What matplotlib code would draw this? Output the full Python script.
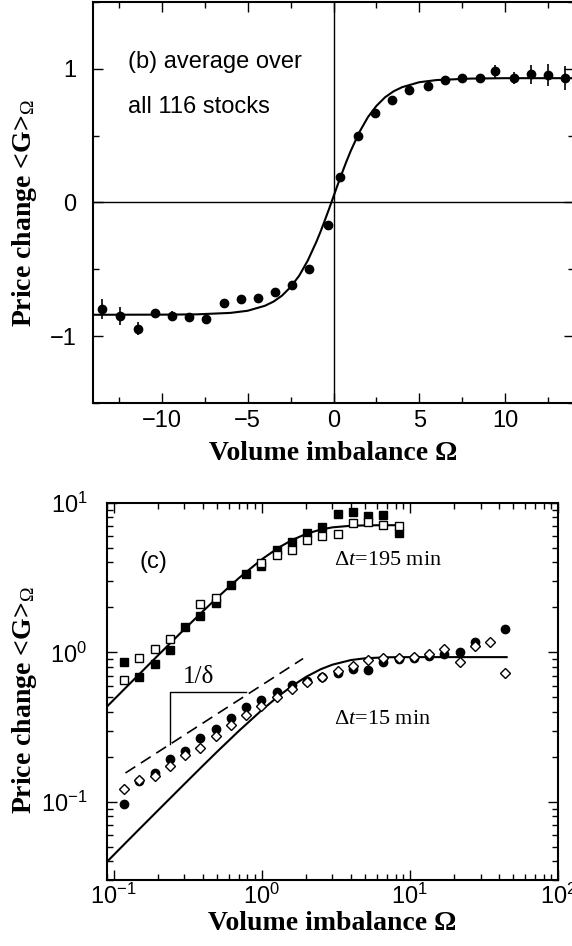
import matplotlib
matplotlib.use("Agg")
import matplotlib.pyplot as plt
import numpy as np
from matplotlib.ticker import MultipleLocator, LogLocator, NullFormatter

plt.rcParams['font.family'] = ['Liberation Sans', 'DejaVu Sans']
plt.rcParams['mathtext.fontset'] = 'custom'
plt.rcParams['mathtext.rm'] = 'Liberation Serif'
plt.rcParams['mathtext.it'] = 'Liberation Serif:italic'
plt.rcParams['mathtext.bf'] = 'Liberation Serif:bold'

# panel (b): average over all stocks
b_om = [-13.5, -12.4, -11.4, -10.4, -9.4, -8.4, -7.4, -6.4, -5.4, -4.4, -3.4, -2.4, -1.4,
        -0.3, 0.4, 1.4, 2.4, 3.4, 4.4, 5.5, 6.5, 7.5, 8.5, 9.4, 10.5, 11.5, 12.5, 13.5]
b_g = [-0.80, -0.85, -0.945, -0.83, -0.85, -0.855, -0.875, -0.75, -0.72, -0.715, -0.67, -0.615, -0.50,
       -0.165, 0.19, 0.50, 0.67, 0.77, 0.84, 0.875, 0.915, 0.935, 0.935, 0.98, 0.93, 0.96, 0.955, 0.93]
b_err = [0.075, 0.07, 0.05, 0.035, 0.035, 0.02, 0.02, 0.015, 0.015, 0.015, 0.015, 0.015, 0.01,
         0.01, 0.01, 0.01, 0.01, 0.01, 0.015, 0.015, 0.015, 0.015, 0.02, 0.045, 0.045, 0.07, 0.08, 0.09]

b_fit_om = [-14, -10, -8, -6, -5, -4, -3.5, -3, -2.5, -2, -1.5, -1, -0.75, -0.5, -0.25, 0,
            0.25, 0.5, 0.75, 1, 1.5, 2, 2.5, 3, 3.5, 4, 5, 6, 8, 10, 14]
b_fit_g = [-0.840, -0.839, -0.837, -0.826, -0.810, -0.773, -0.742, -0.697, -0.633, -0.548, -0.435,
           -0.295, -0.217, -0.132, -0.045, 0.045, 0.135, 0.222, 0.306, 0.385, 0.525, 0.638, 0.723,
           0.787, 0.832, 0.863, 0.900, 0.916, 0.927, 0.930, 0.930]

# panel (c): log-log, two time scales
c_om = [0.117, 0.149, 0.189, 0.239, 0.303, 0.385, 0.488, 0.618, 0.783, 0.993, 1.26, 1.60, 2.02,
        2.56, 3.25, 4.12, 5.22, 6.62, 8.39, 10.6, 13.5, 17.1, 21.7, 27.5, 34.8, 44.2]

g195_filled = [0.862, 0.689, 0.832, 1.04, 1.475, 1.765, 2.14, 2.84, 3.36, 3.76, 4.81, 5.44, 6.28,
               6.89, 8.4, 8.67, 8.24, 8.32, 6.28]
g195_open = [0.654, 0.92, 1.06, 1.23, np.nan, 2.11, 2.31, np.nan, np.nan, 3.96, 4.5, 4.86, 5.67,
             5.97, 6.21, 7.39, 7.43, 7.13, 7.03]

g15_circle = [0.097, 0.137, 0.156, 0.194, 0.22, 0.266, 0.307, 0.365, 0.432, 0.48, 0.547, 0.605, 0.64,
              0.68, 0.724, 0.78, 0.762, 0.862, 0.898, 0.92, 0.95, 0.98, 1.0, 1.18, np.nan, 1.44]
g15_diamond = [0.121, 0.14, 0.148, 0.175, 0.206, 0.231, 0.277, 0.326, 0.38, 0.437, 0.50, 0.567, 0.637,
               0.689, 0.75, 0.81, 0.889, 0.916, 0.916, 0.93, 0.98, 1.047, 0.86, 1.10, 1.17, 0.73]

fit195_om = [0.09, 0.12, 0.15, 0.2, 0.3, 0.4, 0.5, 0.7, 1.0, 1.3, 1.6, 2.0, 2.5, 3.0, 4.0, 5.0, 6.5, 8.6]
fit195_g = [0.434, 0.578, 0.721, 0.960, 1.43, 1.885, 2.325, 3.145, 4.20, 5.03, 5.65, 6.22, 6.64,
            6.87, 7.04, 7.08, 7.10, 7.10]
fit15_om = [0.09, 0.12, 0.15, 0.2, 0.3, 0.4, 0.5, 0.7, 1.0, 1.3, 1.6, 2.0, 2.5, 3.0, 4.0, 5.0, 7.0,
            10, 20, 45]
fit15_g = [0.0397, 0.0530, 0.0662, 0.0881, 0.1316, 0.1746, 0.2169, 0.2983, 0.4112, 0.511, 0.596,
           0.688, 0.772, 0.828, 0.889, 0.914, 0.928, 0.93, 0.93, 0.93]

dash_om = [0.12, 1.9]
dash_g = [0.156, 0.91]
slope_om = [0.24, 0.24, 0.78]
slope_g = [0.244, 0.543, 0.543]

fig = plt.figure(figsize=(5.72, 9.46), dpi=100)
serif = dict(fontfamily='Liberation Serif', fontweight='bold', fontsize=20)

# ---- top panel
ax1 = fig.add_axes([0.1626, 0.574, 0.8409, 0.4239])
ax1.axhline(0, color='k', lw=1)
ax1.axvline(0, color='k', lw=1)
ax1.plot(b_fit_om, b_fit_g, 'k-', lw=1.5)
ax1.errorbar(b_om, b_g, yerr=b_err, fmt='o', color='k', ms=6, elinewidth=1.2, capsize=0)
ax1.set_xlim(-14, 14)
ax1.set_ylim(-1.5, 1.5)
ax1.set_xticks([-10, -5, 0, 5, 10])
ax1.set_yticks([-1, 0, 1])
ax1.xaxis.set_minor_locator(MultipleLocator(2.5))
ax1.yaxis.set_minor_locator(MultipleLocator(0.5))
ax1.tick_params(which='both', direction='in', top=True, right=True, labelsize=17, width=1)
ax1.tick_params(which='major', length=7)
ax1.tick_params(which='minor', length=4)
ax1.tick_params(axis='y', pad=12)
ax1.tick_params(axis='x', pad=5)
for s in ax1.spines.values():
    s.set_linewidth(1.5)
ax1.text(-11.98, 1.007, "(b) average over", fontsize=17, va='baseline')
ax1.text(-11.98, 0.67, "all 116 stocks", fontsize=17, va='baseline')
ax1.set_xlabel("Volume imbalance Ω", **serif)
ax1.set_ylabel("Price change <G>$_{\\Omega}$", **serif)
ax1.xaxis.set_label_coords(0.5, -0.095)
ax1.yaxis.set_label_coords(-0.112, 0.474)

# ---- bottom panel
ax2 = fig.add_axes([0.187, 0.0698, 0.7885, 0.3985])
ax2.set_xscale('log')
ax2.set_yscale('log')
ax2.plot(fit195_om, fit195_g, 'k-', lw=1.5)
ax2.plot(fit15_om, fit15_g, 'k-', lw=1.5)
ax2.plot(dash_om, dash_g, 'k--', lw=1.2, dashes=(7, 4))
ax2.plot(slope_om, slope_g, 'k-', lw=1)
ax2.plot(c_om[:len(g195_filled)], g195_filled, 's', color='k', ms=5.5, ls='none')
ax2.plot(c_om[:len(g195_open)], g195_open, 's', mfc='white', mec='k', mew=1, ms=5.5, ls='none')
ax2.plot(c_om, g15_circle, 'o', color='k', ms=6, ls='none')
ax2.plot(c_om, g15_diamond, 'D', mfc='white', mec='k', mew=1, ms=5.5, ls='none')
ax2.set_xlim(0.09, 100)
ax2.set_ylim(0.03, 10)
ax2.xaxis.set_major_locator(LogLocator(base=10, numticks=10))
ax2.yaxis.set_major_locator(LogLocator(base=10, numticks=10))
ax2.xaxis.set_minor_locator(LogLocator(base=10, subs=np.arange(2, 10), numticks=20))
ax2.yaxis.set_minor_locator(LogLocator(base=10, subs=np.arange(2, 10), numticks=20))
ax2.xaxis.set_minor_formatter(NullFormatter())
ax2.yaxis.set_minor_formatter(NullFormatter())
ax2.tick_params(which='both', direction='in', top=True, right=True, labelsize=17, width=1)
ax2.tick_params(which='major', length=7)
ax2.tick_params(which='minor', length=4)
ax2.tick_params(axis='y', pad=14)
ax2.tick_params(axis='x', pad=3)
for s in ax2.spines.values():
    s.set_linewidth(1.5)
ax2.text(0.15, 4.0, "(c)", fontsize=17, va='center')
ax2.text(3.06, 4.1, "$\\Delta t$=195 min", fontsize=16, fontfamily='Liberation Serif', va='center')
ax2.text(3.06, 0.357, "$\\Delta t$=15 min", fontsize=16, fontfamily='Liberation Serif', va='center')
ax2.text(0.375, 0.68, "1/δ", fontsize=18, fontfamily='Liberation Serif', ha='center', va='center')
ax2.set_xlabel("Volume imbalance Ω", **serif)
ax2.set_ylabel("Price change <G>$_{\\Omega}$", **serif)
ax2.xaxis.set_label_coords(0.5, -0.082)
ax2.yaxis.set_label_coords(-0.151, 0.477)

fig.savefig("out.png", dpi=100)
